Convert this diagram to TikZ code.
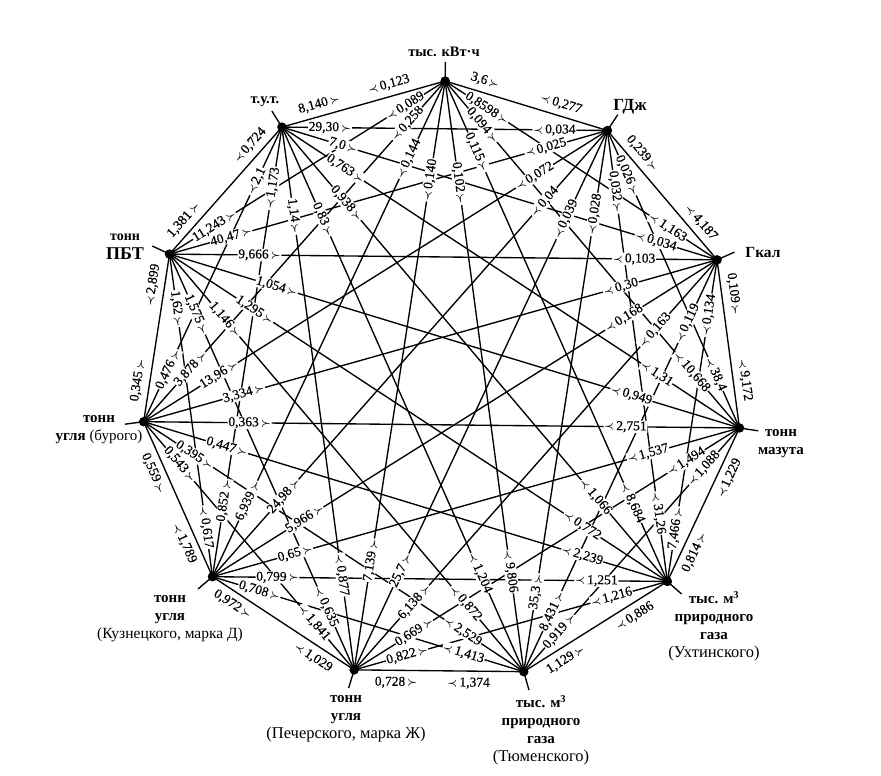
\documentclass[tikz,border=0pt]{standalone}
\usepackage{fontspec}
\setmainfont{Liberation Serif}
\newfontfamily\numfont[FakeBold=0.5]{Liberation Serif}
\usetikzlibrary{calc}
\tikzset{
  edge/.style={line width=1.35pt},
  stub/.style={line width=1.35pt},
  numlab/.style={fill=white, inner sep=0.7pt, font=\numfont\fontsize{13.5}{14}\selectfont},
  unitlab/.style={font=\fontsize{15}{18}\bfseries\selectfont, align=center, inner sep=0pt},
  dotnode/.style={circle, fill=black, inner sep=0pt, minimum size=9.5pt},
}
\newcommand\arR{{\fontsize{11}{12}\selectfont\boldmath$\succ$}}
\newcommand\arL{{\fontsize{11}{12}\selectfont\boldmath$\prec$}}
\newcommand\paren[1]{{\mdseries\fontsize{16.5}{18}\selectfont #1}}
% #1 from, #2 to, #3 distance of number centre from #1, #4 value, #5 1 = outer edge
\newcommand\edgelab[5]{%
  \pgfmathsetmacro\lbxa{442+301*cos(89.4-#1*360/11)}%
  \pgfmathsetmacro\lbya{394+301*sin(89.4-#1*360/11)}%
  \pgfmathsetmacro\lbxb{442+301*cos(89.4-#2*360/11)}%
  \pgfmathsetmacro\lbyb{394+301*sin(89.4-#2*360/11)}%
  \pgfmathsetmacro\lbdx{\lbxb-\lbxa}%
  \pgfmathsetmacro\lbdy{\lbyb-\lbya}%
  \pgfmathsetmacro\lbL{602*sin(abs(#1-#2)*180/11)}%
  \pgfmathsetmacro\lbang{atan2(\lbdy,\lbdx)}%
  \pgfmathsetmacro\lbux{\lbdx/\lbL}%
  \pgfmathsetmacro\lbuy{\lbdy/\lbL}%
  \pgfmathsetmacro\lbs{((-\lbuy*(\lbxa-442)+\lbux*(\lbya-394))<0)?-1:1}%
  \pgfmathsetmacro\lbpx{\lbxa+(#3+5)*\lbux-#5*12*\lbs*\lbuy}%
  \pgfmathsetmacro\lbpy{\lbya+(#3+5)*\lbuy+#5*12*\lbs*\lbux}%
  \ifdim\lbdx pt>0pt
    \node[numlab, rotate=\lbang] at (\lbpx,\lbpy) {#4\,\arR};%
  \else
    \pgfmathsetmacro\lbrot{\lbang+180}%
    \node[numlab, rotate=\lbrot] at (\lbpx,\lbpy) {\arL\,#4};%
  \fi
}
\begin{document}
\begin{tikzpicture}[x=1pt,y=1pt]
\useasboundingbox (0,0) rectangle (881,776);
\coordinate (O) at (442,394);
\foreach \i in {0,...,10}{
  \coordinate (n\i) at ($(O)+({89.4-\i*360/11}:301)$);
  \coordinate (s\i) at ($(O)+({89.4-\i*360/11}:320)$);
}
% all connections
\foreach \i in {0,...,9}{
  \pgfmathtruncatemacro\ii{\i+1}
  \foreach \j in {\ii,...,10}{
    \draw[edge] (n\i) -- (n\j);
  }
}
\foreach \i in {0,...,10}{ \draw[stub] (n\i) -- (s\i); }

% т.у.т. (10)
\edgelab{10}{0}{37}{8,140}{1}
\edgelab{10}{1}{43}{29,30}{0}
\edgelab{10}{2}{59}{7,0}{0}
\edgelab{10}{3}{71}{0,763}{0}
\edgelab{10}{4}{95}{0,938}{0}
\edgelab{10}{5}{96}{0,83}{0}
\edgelab{10}{6}{85}{1,14}{0}
\edgelab{10}{7}{57}{1,173}{0}
\edgelab{10}{8}{55}{2,1}{0}
\edgelab{10}{9}{30}{0,724}{1}
% кВт·ч (0)
\edgelab{0}{10}{50}{0,123}{1}
\edgelab{0}{1}{33}{3,6}{1}
\edgelab{0}{2}{45}{0,8598}{0}
\edgelab{0}{3}{53}{0,094}{0}
\edgelab{0}{4}{73}{0,115}{0}
\edgelab{0}{5}{98}{0,102}{0}
\edgelab{0}{6}{95}{0,140}{0}
\edgelab{0}{7}{81}{0,144}{0}
\edgelab{0}{8}{52}{0,258}{0}
\edgelab{0}{9}{42}{0,089}{0}
% ГДж (1)
\edgelab{1}{0}{47}{0,277}{1}
\edgelab{1}{2}{35}{0,239}{1}
\edgelab{1}{3}{44}{0,026}{0}
\edgelab{1}{4}{57}{0,032}{0}
\edgelab{1}{5}{80}{0,028}{0}
\edgelab{1}{6}{93}{0,039}{0}
\edgelab{1}{7}{90}{0,04}{0}
\edgelab{1}{8}{81}{0,072}{0}
\edgelab{1}{9}{59}{0,025}{0}
\edgelab{1}{10}{48}{0,034}{0}
% Гкал (2)
\edgelab{2}{1}{34}{4,187}{1}
\edgelab{2}{0}{54}{1,163}{0}
\edgelab{2}{10}{59}{0,034}{0}
\edgelab{2}{9}{78}{0,103}{0}
\edgelab{2}{8}{95}{0,30}{0}
\edgelab{2}{7}{105}{0,168}{0}
\edgelab{2}{6}{89}{0,163}{0}
\edgelab{2}{5}{65}{0,119}{0}
\edgelab{2}{4}{51}{0,134}{0}
\edgelab{2}{3}{31}{0,109}{1}
% мазут (3)
\edgelab{3}{2}{42}{9,172}{1}
\edgelab{3}{1}{54}{38,4}{0}
\edgelab{3}{0}{69}{10,668}{0}
\edgelab{3}{10}{94}{1,31}{0}
\edgelab{3}{9}{108}{0,949}{0}
\edgelab{3}{8}{109}{2,751}{0}
\edgelab{3}{7}{90}{1,537}{0}
\edgelab{3}{6}{58}{1,494}{0}
\edgelab{3}{5}{49}{1,088}{0}
\edgelab{3}{4}{45}{1,229}{1}
% Ухтинский газ (4)
\edgelab{4}{3}{33}{0,814}{1}
\edgelab{4}{2}{49}{7,466}{0}
\edgelab{4}{1}{64}{31,26}{0}
\edgelab{4}{0}{81}{8,684}{0}
\edgelab{4}{10}{106}{1,066}{0}
\edgelab{4}{9}{97}{0,772}{0}
\edgelab{4}{8}{84}{2,239}{0}
\edgelab{4}{7}{66}{1,251}{0}
\edgelab{4}{6}{53}{1,216}{0}
\edgelab{4}{5}{41}{0,886}{1}
% Тюменский газ (5)
\edgelab{5}{4}{37}{1,129}{1}
\edgelab{5}{3}{49}{0,919}{0}
\edgelab{5}{2}{62}{8,431}{0}
\edgelab{5}{1}{76}{35,3}{0}
\edgelab{5}{0}{96}{9,806}{0}
\edgelab{5}{10}{103}{1,204}{0}
\edgelab{5}{9}{85}{0,872}{0}
\edgelab{5}{8}{68}{2,529}{0}
\edgelab{5}{7}{58}{1,413}{0}
\edgelab{5}{6}{50}{1,374}{1}
% Печерский уголь (6)
\edgelab{6}{5}{37}{0,728}{1}
\edgelab{6}{4}{50}{0,822}{0}
\edgelab{6}{3}{66}{0,669}{0}
\edgelab{6}{2}{86}{6,138}{0}
\edgelab{6}{1}{105}{25,7}{0}
\edgelab{6}{0}{106}{7,139}{0}
\edgelab{6}{10}{91}{0,877}{0}
\edgelab{6}{9}{64}{0,635}{0}
\edgelab{6}{8}{57}{1,841}{0}
\edgelab{6}{7}{36}{1,029}{1}
% Кузнецкий уголь (7)
\edgelab{7}{6}{27}{0,972}{1}
\edgelab{7}{5}{44}{0,708}{0}
\edgelab{7}{4}{60}{0,799}{0}
\edgelab{7}{3}{81}{0,65}{0}
\edgelab{7}{2}{104}{5,966}{0}
\edgelab{7}{1}{103}{24,98}{0}
\edgelab{7}{0}{79}{6,939}{0}
\edgelab{7}{10}{72}{0,852}{0}
\edgelab{7}{9}{45}{0,617}{0}
\edgelab{7}{8}{37}{1,789}{1}
% бурый уголь (8)
\edgelab{8}{7}{46}{0,559}{1}
\edgelab{8}{6}{51}{0,543}{0}
\edgelab{8}{5}{56}{0,395}{0}
\edgelab{8}{4}{82}{0,447}{0}
\edgelab{8}{3}{101}{0,363}{0}
\edgelab{8}{2}{99}{3,334}{0}
\edgelab{8}{1}{84}{13,96}{0}
\edgelab{8}{0}{66}{3,878}{0}
\edgelab{8}{10}{53}{0,476}{0}
\edgelab{8}{9}{35}{0,345}{1}
% ПБТ (9)
\edgelab{9}{8}{28}{2,899}{1}
\edgelab{9}{10}{30}{1,381}{1}
\edgelab{9}{0}{48}{11,243}{0}
\edgelab{9}{1}{59}{40,47}{0}
\edgelab{9}{2}{85}{9,666}{0}
\edgelab{9}{3}{107}{1,054}{0}
\edgelab{9}{4}{97}{1,295}{0}
\edgelab{9}{5}{81}{1,146}{0}
\edgelab{9}{6}{61}{1,575}{0}
\edgelab{9}{7}{50}{1,62}{0}

% dots
\foreach \i in {0,...,10}{ \node[dotnode] (d\i) at (n\i) {}; }

% unit names
\node[unitlab, font=\fontsize{14.5}{18}\bfseries\selectfont] (lK) at (444,724) {тыс. кВт·ч};
\node[unitlab, font=\fontsize{17}{18}\bfseries\selectfont] (lG) at (630,669) {ГДж};
\node[unitlab, font=\fontsize{15.5}{18}\bfseries\selectfont] (lC) at (763,523) {Гкал};
\node[unitlab] (lM) at (781,332) {тонн\\мазута};
\node[unitlab] (lU) at (714,150) {тыс. м\textsuperscript{3}\\природного\\газа\\\paren{(Ухтинского)}};
\node[unitlab] (lT) at (541,46) {тыс. м\textsuperscript{3}\\природного\\газа\\\paren{(Тюменского)}};
\node[unitlab] (lP) at (346,57) {тонн\\угля\\\paren{(Печерского, марка Ж)}};
\node[unitlab] (lKz) at (170,157) {тонн\\угля\\{\mdseries\fontsize{15.5}{18}\selectfont(Кузнецкого, марка Д)}};
\node[unitlab] (lB) at (99,346) {тонн\\угля {\mdseries(бурого)}};
\node[unitlab, font=\fontsize{14}{16}\bfseries\selectfont] (lPBT1) at (125,539) {тонн};
\node[unitlab, font=\fontsize{18}{18}\bfseries\selectfont] (lPBT2) at (125,522) {ПБТ};
\node[unitlab, font=\fontsize{14.5}{18}\bfseries\selectfont] (lTUT) at (265,674) {т.у.т.};
\end{tikzpicture}
\end{document}
